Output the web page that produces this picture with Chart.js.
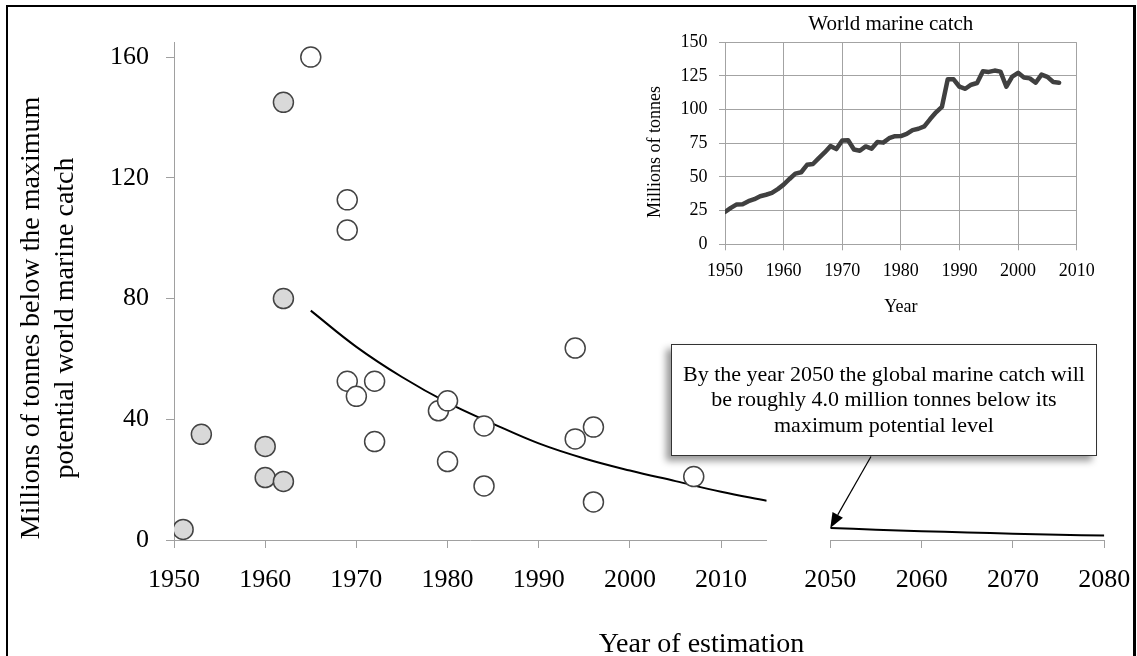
<!DOCTYPE html>
<html>
<head>
<meta charset="utf-8">
<title>World marine catch estimates</title>
<script src="https://cdn.jsdelivr.net/npm/chart.js@4.4.1/dist/chart.umd.min.js"></script>
<style>
    html, body { margin: 0; padding: 0; background: #fff; }
    body {
        width: 1137px; height: 656px; position: relative; overflow: hidden;
        font-family: 'Liberation Serif', 'Times New Roman', serif; color: #000;
    }
    canvas { position: absolute; }
    .txt { position: absolute; white-space: nowrap; text-align: center; }
    #frame {
        position: absolute; left: 6px; top: 5px; width: 1130px; height: 720px;
        box-sizing: border-box; border: 2px solid #000; border-right-width: 3px;
    }
    #yTitle {
        left: -203px; top: 284px; width: 500px; height: 68px;
        font-size: 28px; line-height: 34px; transform: rotate(-90deg);
    }
    #xTitle { left: 451.5px; top: 625.6px; width: 500px; font-size: 28px; line-height: 34px; }
    #insetTitle { left: 740.8px; top: 11px; width: 300px; font-size: 21px; line-height: 25px; }
    #insetYTitle {
        left: 553.9px; top: 141px; width: 200px; height: 22px;
        font-size: 18px; line-height: 22px; transform: rotate(-90deg);
    }
    #insetXTitle { left: 800.8px; top: 294.6px; width: 200px; font-size: 18px; line-height: 22px; }
    #note {
        position: absolute; left: 670.7px; top: 344px; width: 426.6px; height: 112px;
        box-sizing: border-box; border: 1px solid #333; background: #fff;
        padding-top: 15.5px; text-align: center; white-space: nowrap;
        font-size: 22px; line-height: 25.5px;
        box-shadow: -5px 5px 7px rgba(0, 0, 0, 0.4);
    }
</style>
</head>
<body>
<canvas id="mainChart" width="790" height="656" style="left:0;top:0"></canvas>
<canvas id="farChart" width="380" height="656" style="left:780px;top:0"></canvas>
<canvas id="catchChart" width="506" height="340" style="left:630px;top:0"></canvas>
<div id="frame"></div>

<div class="txt" id="yTitle">Millions of tonnes below the maximum<br>potential world marine catch</div>
<div class="txt" id="xTitle">Year of estimation</div>
<div class="txt" id="insetTitle">World marine catch</div>
<div class="txt" id="insetYTitle">Millions of tonnes</div>
<div class="txt" id="insetXTitle">Year</div>
<div id="note"></div>

<script>
// Schaetzungen (grau gefuellt = fruehe Schaetzungen)
const shadedYears  = [1951, 1953, 1960, 1960, 1962, 1962, 1962];
const shadedValues = [3.5, 35, 31, 20.7, 19.4, 80, 145];

// Schaetzungen (offene Kreise)
const openYears  = [1965, 1969, 1969, 1969, 1970, 1972, 1972, 1979, 1980, 1980, 1984, 1984, 1994, 1994, 1996, 1996, 2007];
const openValues = [160, 112.7, 102.7, 52.6, 47.6, 52.6, 32.6, 42.8, 46.1, 26.0, 37.8, 17.9, 63.6, 33.5, 37.4, 12.6, 21.0];

// Trendkurve bis 2015
const trendYears  = [1965, 1970, 1975, 1980, 1985, 1990, 1995, 2000, 2005, 2010, 2015];
const trendValues = [76, 64, 54, 45.5, 38.5, 32, 27, 23, 19.5, 16, 13];

// Projektion 2050-2080
const projYears  = [2050, 2055, 2060, 2065, 2070, 2075, 2080];
const projValues = [4.0, 3.4, 2.9, 2.5, 2.1, 1.75, 1.45];

// Weltweiter Meeresfang (Inset)
const catchYears = [
    1950, 1951, 1952, 1953, 1954, 1955, 1956, 1957, 1958, 1959,
    1960, 1961, 1962, 1963, 1964, 1965, 1966, 1967, 1968, 1969,
    1970, 1971, 1972, 1973, 1974, 1975, 1976, 1977, 1978, 1979,
    1980, 1981, 1982, 1983, 1984, 1985, 1986, 1987, 1988, 1989,
    1990, 1991, 1992, 1993, 1994, 1995, 1996, 1997, 1998, 1999,
    2000, 2001, 2002, 2003, 2004, 2005, 2006, 2007
];
const catchValues = [
    24, 27, 29.6, 29.8, 32, 33.5, 35.7, 36.8, 38.2, 41,
    44.3, 48.5, 52.5, 53.5, 59, 59.6, 64, 68.2, 72.9, 70.7,
    77.1, 77.3, 70.4, 69.5, 72.7, 71, 75.9, 75.5, 78.8, 80.3,
    80.4, 82, 84.8, 85.8, 87.5, 93, 98, 102, 122.5, 122.5,
    117, 115.5, 118.5, 119.8, 128.5, 128, 129, 128.2, 117, 124.5,
    127.3, 123.8, 123.2, 120, 126, 124.3, 120.5, 120
];

// Achsen
const mainYTicks = { min: 0, max: 165, step: 40 };
const nearXTicks = { min: 1950, max: 2015, step: 10 };
const farXTicks  = { min: 2050, max: 2080, step: 10 };
const insetXTicks = { min: 1950, max: 2010, step: 10 };
const insetYTicks = { min: 0, max: 150, step: 25 };

const serif = "'Liberation Serif', 'Times New Roman', serif";
const axisGray = '#a0a0a0';

Chart.defaults.font.family = serif;
Chart.defaults.color = '#000';
Chart.defaults.animation = false;
Chart.defaults.plugins.legend.display = false;
Chart.defaults.plugins.tooltip.enabled = false;

document.getElementById('note').innerHTML =
    'By the year ' + projYears[0] + ' the global marine catch will<br>' +
    'be roughly ' + projValues[0].toFixed(1) + ' million tonnes below its<br>' +
    'maximum potential level';

function toPoints(xs, ys) {
    return xs.map((x, i) => ({ x: x, y: ys[i] }));
}

// Jahreszahlen ohne Tausender-Trennzeichen
const plainLabel = (value) => String(value);

function outerAxis(range, extra) {
    return Object.assign({
        type: 'linear',
        min: range.min,
        max: range.max,
        grid: { drawOnChartArea: false, drawTicks: true, tickLength: 8, color: axisGray, tickColor: axisGray },
        border: { display: true, color: axisGray, width: 1 },
        ticks: {
            stepSize: range.step,
            includeBounds: false,
            maxRotation: 0,
            autoSkip: false,
            padding: 17,
            color: '#000',
            font: { family: serif, size: 26 },
            callback: plainLabel
        }
    }, extra);
}

const circleStyle = {
    pointRadius: 10,
    pointBorderWidth: 1.5,
    pointBorderColor: '#444',
    showLine: false
};

// linker Teil: 1950-2015
new Chart(document.getElementById('mainChart'), {
    type: 'scatter',
    data: {
        datasets: [
            Object.assign({ label: 'Schaetzung (grau)', data: toPoints(shadedYears, shadedValues), pointBackgroundColor: '#d9d9d9' }, circleStyle),
            Object.assign({ label: 'Schaetzung', data: toPoints(openYears, openValues), pointBackgroundColor: '#fff' }, circleStyle),
            {
                label: 'Trend',
                data: toPoints(trendYears, trendValues),
                showLine: true,
                borderColor: '#000',
                borderWidth: 2,
                pointRadius: 0,
                tension: 0.4
            }
        ]
    },
    options: {
        responsive: false,
        layout: { padding: { left: 0, right: 23.3, top: 42, bottom: 0 } },
        scales: {
            x: outerAxis(nearXTicks, { afterFit: (s) => { s.height = 116; } }),
            y: outerAxis(mainYTicks, { afterFit: (s) => { s.width = 174; } })
        }
    }
});

// Pfeil vom Hinweis-Kasten auf den Wert 2050
const arrowPlugin = {
    id: 'noteArrow',
    afterDraw(chart) {
        const ctx = chart.ctx;
        const tipX = chart.scales.x.getPixelForValue(projYears[0]);
        const tipY = chart.scales.y.getPixelForValue(projValues[0]);
        const tailX = 871 - 780, tailY = 456.5;
        const ang = Math.atan2(tipY - tailY, tipX - tailX);
        const len = 15, half = 6;
        ctx.save();
        ctx.strokeStyle = '#000';
        ctx.fillStyle = '#000';
        ctx.lineWidth = 1.2;
        ctx.beginPath();
        ctx.moveTo(tailX, tailY);
        ctx.lineTo(tipX - Math.cos(ang) * len, tipY - Math.sin(ang) * len);
        ctx.stroke();
        ctx.beginPath();
        ctx.moveTo(tipX, tipY);
        ctx.lineTo(tipX - Math.cos(ang) * len - Math.sin(ang) * half, tipY - Math.sin(ang) * len + Math.cos(ang) * half);
        ctx.lineTo(tipX - Math.cos(ang) * len + Math.sin(ang) * half, tipY - Math.sin(ang) * len - Math.cos(ang) * half);
        ctx.closePath();
        ctx.fill();
        ctx.restore();
    }
};

// rechter Teil: 2050-2080 (Canvas ragt rechts etwas ueber den Rand hinaus)
new Chart(document.getElementById('farChart'), {
    type: 'scatter',
    data: {
        datasets: [{
            label: 'Projektion',
            data: toPoints(projYears, projValues),
            showLine: true,
            borderColor: '#000',
            borderWidth: 2,
            pointRadius: 0,
            tension: 0.4
        }]
    },
    options: {
        responsive: false,
        layout: { padding: { left: 50.3, right: 55.7, top: 42, bottom: 0 } },
        scales: {
            x: outerAxis(farXTicks, { afterFit: (s) => { s.height = 116; } }),
            y: { type: 'linear', display: false, min: mainYTicks.min, max: mainYTicks.max }
        }
    },
    plugins: [arrowPlugin]
});

// Inset: World marine catch
const insetGrid = { color: '#a3a3a3', tickColor: '#a3a3a3', tickLength: 6, drawTicks: true, lineWidth: 1 };
new Chart(document.getElementById('catchChart'), {
    type: 'line',
    data: {
        datasets: [{
            label: 'World marine catch',
            data: toPoints(catchYears, catchValues),
            borderColor: '#404040',
            borderWidth: 4.5,
            pointRadius: 0,
            tension: 0,
            borderJoinStyle: 'round',
            borderCapStyle: 'round'
        }]
    },
    options: {
        responsive: false,
        layout: { padding: { left: 0, right: 59.3, top: 42.3, bottom: 0 } },
        scales: {
            x: {
                type: 'linear', min: insetXTicks.min, max: insetXTicks.max,
                grid: insetGrid,
                border: { color: '#a3a3a3' },
                ticks: { stepSize: insetXTicks.step, maxRotation: 0, autoSkip: false, padding: 10, font: { family: serif, size: 18 }, callback: plainLabel },
                afterFit: (s) => { s.height = 95.7; }
            },
            y: {
                type: 'linear', min: insetYTicks.min, max: insetYTicks.max,
                grid: insetGrid,
                border: { color: '#a3a3a3' },
                ticks: { stepSize: insetYTicks.step, autoSkip: false, padding: 11.5, font: { family: serif, size: 18 }, callback: plainLabel },
                afterFit: (s) => { s.width = 95; }
            }
        }
    }
});
</script>
</body>
</html>
